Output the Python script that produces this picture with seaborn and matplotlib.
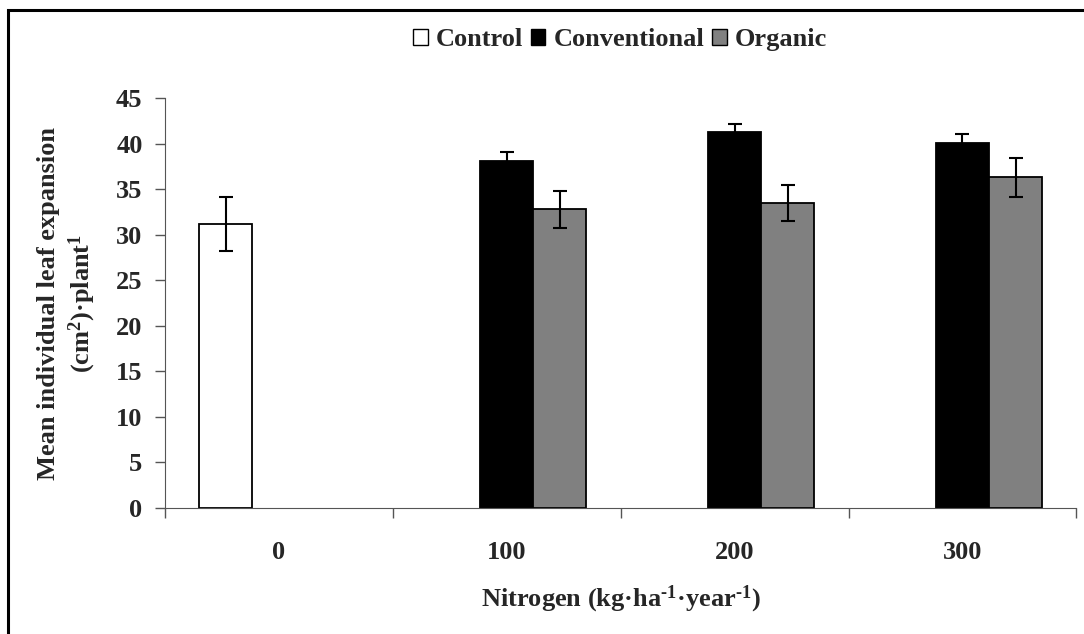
import seaborn as sns
import matplotlib.pyplot as plt
import matplotlib.patches as mpatches
import pandas as pd

nitrogen = ['0', '100', '100', '200', '200', '300', '300']
treatment = ['Control', 'Conventional', 'Organic', 'Conventional', 'Organic', 'Conventional', 'Organic']
leaf_area = [31.2, 38.1, 32.8, 41.3, 33.5, 40.1, 36.3]
leaf_err = [3.0, 1.0, 2.0, 0.9, 2.0, 1.0, 2.1]

treatments = ['Control', 'Conventional', 'Organic']
colors = ['white', 'black', '#808080']
levels = ['0', '100', '200', '300']

df = pd.DataFrame({'nitrogen': nitrogen, 'treatment': treatment,
                   'area': leaf_area, 'err': leaf_err})

sns.set_style('ticks')
plt.rcParams['font.family'] = ['Liberation Serif', 'DejaVu Serif']
plt.rcParams['font.weight'] = 'bold'
plt.rcParams['mathtext.fontset'] = 'custom'
plt.rcParams['mathtext.rm'] = 'Liberation Serif:bold'
plt.rcParams['mathtext.bf'] = 'Liberation Serif:bold'
plt.rcParams['mathtext.default'] = 'bf'

FS = 19

fig = plt.figure(figsize=(10.84, 6.34), dpi=100)
ax = fig.add_axes([0.152, 0.199, 0.841, 0.646])

sns.barplot(data=df, x='nitrogen', y='area', hue='treatment', order=levels,
            hue_order=treatments, palette=colors, width=0.7, errorbar=None,
            edgecolor='black', linewidth=1.3, ax=ax, legend=False)

# error bars at the bar centres
for cont, t in zip(ax.containers, treatments):
    sub = df[df['treatment'] == t]
    xs = [b.get_x() + b.get_width() / 2 for b in cont if b.get_height() > 0]
    ax.errorbar(xs, sub['area'], yerr=sub['err'], fmt='none', ecolor='black',
                elinewidth=1.5, capsize=5, capthick=1.5, zorder=5)

ax.set_ylim(0, 45)
ax.set_yticks(range(0, 46, 5))
ax.set_xlim(-0.5, 3.5)
ax.set_xticks([-0.5, 0.5, 1.5, 2.5, 3.5])
ax.set_xticklabels([])
ax.set_xticks(range(4), minor=True)
ax.set_xticklabels(levels, minor=True)
ax.tick_params(axis='x', which='minor', length=0, pad=24, labelsize=FS)
ax.tick_params(axis='x', which='major', length=7, width=1, color='#555555')
ax.tick_params(axis='y', length=7, width=1, labelsize=FS, pad=9, color='#555555')
for lab in ax.get_yticklabels() + ax.get_xticklabels(minor=True):
    lab.set_fontweight('bold')
sns.despine(ax=ax, top=True, right=True)
ax.spines['left'].set_color('#555555')
ax.spines['bottom'].set_color('#555555')

ax.set_xlabel('Nitrogen (kg·ha$^{\\text{-}1}$·year$^{\\text{-}1}$)', fontsize=FS, fontweight='bold')
ax.xaxis.set_label_coords(0.5, -0.185)
ax.set_ylabel('Mean individual leaf expansion\n(cm$^{2}$)·plant$^{1}$',
              fontsize=FS, fontweight='bold', linespacing=1.3)
ax.yaxis.set_label_coords(-0.073, 0.5)

handles = [mpatches.Patch(facecolor=c, edgecolor='black', linewidth=1) for c in colors]
fig.legend(handles, treatments, loc='center', bbox_to_anchor=(0.572, 0.937), ncol=3,
           frameon=False, prop={'family': 'Liberation Serif', 'weight': 'bold', 'size': FS},
           handlelength=0.55, handleheight=0.55, handletextpad=0.3, columnspacing=0.3)

# outer frame, cut at the right and bottom like the source
fig.add_artist(mpatches.Rectangle((8 / 1084, -0.1), 1.2, 1 - 10 / 634 + 0.1,
                                  transform=fig.transFigure, fill=False,
                                  edgecolor='black', linewidth=2.2))

fig.savefig('out.png', dpi=100)
